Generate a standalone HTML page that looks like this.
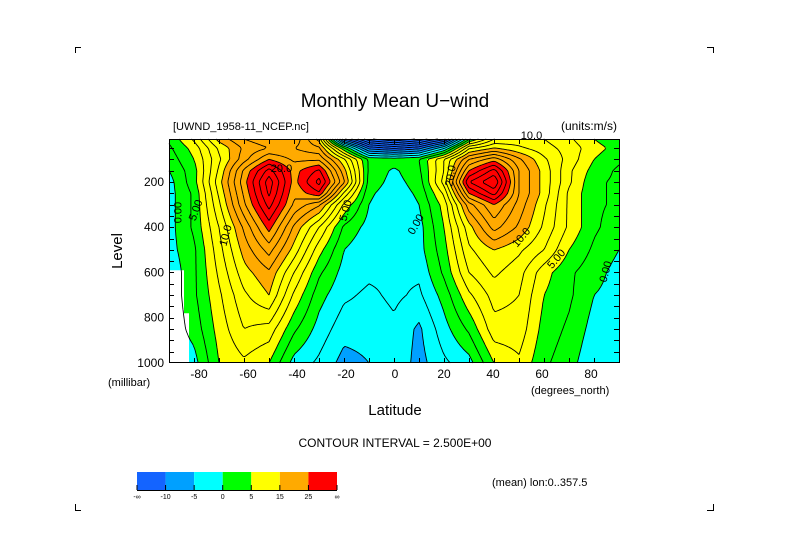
<!DOCTYPE html>
<html><head><meta charset="utf-8">
<style>
html,body{margin:0;padding:0;background:#fff;}
svg{display:block;font-family:"Liberation Sans",sans-serif;}
</style></head>
<body>
<svg id="chart" width="789" height="558" viewBox="0 0 789 558">
  <g id="corners" stroke="#000" stroke-width="1" fill="none">
    <path d="M75.5,53 V47.5 H81"/><path d="M707,47.5 H713.5 V53"/>
    <path d="M75.5,504 V510.5 H81"/><path d="M707,510.5 H713.5 V504"/>
  </g>
  <text x="395" y="107" font-size="19" text-anchor="middle">Monthly Mean U−wind</text>
  <text x="173" y="130" font-size="11">[UWND_1958-11_NCEP.nc]</text>
  <text x="617" y="130" font-size="12" text-anchor="end">(units:m/s)</text>
  <g id="fills"></g>
  <path id="missing" fill="#fff" d=""/>
  <g id="lines"></g>
  <g id="labels" font-size="11"></g>
  <rect x="169.5" y="139.5" width="450" height="223" fill="none" stroke="#000"/>
  <g id="ticks" stroke="#000"></g>
  <g id="yticklabels" font-size="12" text-anchor="end"></g>
  <g id="xticklabels" font-size="12" text-anchor="middle"></g>
  <text x="108" y="386" font-size="11">(millibar)</text>
  <text x="531" y="394" font-size="11">(degrees_north)</text>
  <text x="395" y="415" font-size="15" text-anchor="middle">Latitude</text>
  <text x="0" y="0" font-size="15" text-anchor="middle" transform="translate(122,251) rotate(-90)">Level</text>
  <text x="395" y="447" font-size="12" text-anchor="middle">CONTOUR INTERVAL = 2.500E+00</text>
  <g id="colorbar"></g>
  <text x="492" y="486" font-size="11">(mean) lon:0..357.5</text>
</svg>
<script>
// ---- data ----
const lats = [-90,-80,-70,-60,-50,-40,-30,-20,-10,0,10,20,30,40,50,60,70,80,90];
const levels = [10,50,100,150,200,250,300,400,500,600,700,850,1000];
const u10   = [3,8,16,20,22,22,14,-12,-22,-25,-22,-16,2,10,11,10,8,5,3];
const u50   = [2,6,13,18,20,20,18,3,-11,-13,-11,-3,12,15,13,11,9,6,4];
const u100  = [1,5,12,19,25,22,22,13,2,1.5,2.5,10,20,24,18,13,9,5,3];
const u150  = [0,4,13,23,31,24,28,16,2,-0.5,2,10,25,31,20,14,8,4,2];
const u200  = [-1,4,14,24,34,24,31,18,1.5,-1,1.2,11,30,35,20,14,8,3,2];
const u250  = [-1,3,13,23,33,23,27,12,0.5,-1.5,0.5,8,25,31,20,14,7,3,2];
const u300  = [-1,3,12,22,31,22,18,7,0,-2,0,6,19,25,19,13,7,3,2];
const u400  = [-1,3,10,18,26,17,10,2,-1,-2,-1,5,14,21,17,12,7,3,1];
const u500  = [-1,2,9,16,21,14,6,0,-2,-2,-1,4,12,15,13,10,5,2,0];
const u600  = [-2,2,8,14,17,10,3,-1,-2,-2,-2,3,10,13,11,6,3,1,-1];
const u700  = [-2,2,7,12,15,7,1,-2,-3,-2,-3,1,7,11,10,5,3,0,-1];
const u850  = [-2,1,6,10,9,3,-1,-4,-4,-3,-5.5,-1,3,9,9,4,2,-1,-2];
const u1000 = [-2,-1,5,7,5,-1,-3,-6,-5,-3,-6,-3,-1,5,7,3,1,-2,-2];
const rows = [u10,u50,u100,u150,u200,u250,u300,u400,u500,u600,u700,u850,u1000];
const fillBreaks = [-10,-5,0,5,15,25];
const fillColors = ["#1464ff","#00a0ff","#00ffff","#00ff00","#ffff00","#ffaa00","#ff0000"];
const barLabels = ["-∞","-10","-5","0","5","15","25","∞"];
const yTicks = [200,400,600,800,1000];
const xTicks = [-80,-60,-40,-20,0,20,40,60,80];
const cInterval = 2.5;

// ---- axes ----
const X0=169, X1=619, Y0=139, Y1=363;
const xOf = lat => X0 + (lat+90)/180*(X1-X0);
const xLab = lat => 395 + lat*2.45;
const yOf = p => Y1 - (1000-p)/(1000-10)*(Y1-Y0);
const latOf = x => (x-X0)/(X1-X0)*180-90;
const pOf = y => 1000 - (Y1-y)/(Y1-Y0)*990;
const NS="http://www.w3.org/2000/svg";
function mk(tag, attrs, parent){const e=document.createElementNS(NS,tag);for(const k in attrs)e.setAttribute(k,attrs[k]);parent.appendChild(e);return e;}

function val(lat,p){
  let fi=(lat+90)/10; fi=Math.max(0,Math.min(lats.length-1.0001,fi));
  const i=Math.floor(fi), t=fi-i;
  let j=0; while(j<levels.length-2 && p>levels[j+1]) j++;
  let s=(p-levels[j])/(levels[j+1]-levels[j]); s=Math.max(0,Math.min(1,s));
  const a=rows[j][i]*(1-t)+rows[j][i+1]*t;
  const b=rows[j+1][i]*(1-t)+rows[j+1][i+1]*t;
  return a*(1-s)+b*s;
}
function cls(v){let k=0;while(k<fillBreaks.length && v>=fillBreaks[k])k++;return k;}

// fills (run-length per pixel row)
const fills=document.getElementById('fills');
for(let y=Y0;y<Y1;y++){
  const p=pOf(y+0.5);
  let start=X0, cur=cls(val(latOf(X0+0.5),p));
  for(let x=X0+1;x<=X1;x++){
    const c = x<X1 ? cls(val(latOf(x+0.5),p)) : -1;
    if(c!==cur){
      const r=mk('rect',{x:start,y:y,width:x-start,height:1,fill:fillColors[cur]},fills);
      
      
      start=x;cur=c;
    }
  }
}
document.getElementById('missing').setAttribute('d',
  `M${X0},${yOf(590)} H${xOf(-84)} V${yOf(780)} H${xOf(-82)} V${Y1} H${X0} Z`);

// contour lines via marching squares
const lines=document.getElementById('lines');
const step=2, nx=Math.floor((X1-X0)/step)+1, ny=Math.floor((Y1-Y0)/step)+1;
const G=[];
for(let j=0;j<ny;j++){G.push([]);for(let i=0;i<nx;i++)G[j].push(val(latOf(X0+i*step),pOf(Y0+j*step)));}
for(let L=-30;L<=40;L+=cInterval){
  let d='';
  for(let j=0;j<ny-1;j++)for(let i=0;i<nx-1;i++){
    const a=G[j][i],b=G[j][i+1],c=G[j+1][i+1],e=G[j+1][i];
    const x=X0+i*step,y=Y0+j*step;
    const pts=[];
    if((a<L)!==(b<L))pts.push([x+step*(L-a)/(b-a),y]);
    if((b<L)!==(c<L))pts.push([x+step,y+step*(L-b)/(c-b)]);
    if((e<L)!==(c<L))pts.push([x+step*(L-e)/(c-e),y+step]);
    if((a<L)!==(e<L))pts.push([x,y+step*(L-a)/(e-a)]);
    for(let k=0;k+1<pts.length;k+=2)d+=`M${pts[k][0].toFixed(1)},${pts[k][1].toFixed(1)}L${pts[k+1][0].toFixed(1)},${pts[k+1][1].toFixed(1)}`;
  }
  if(!d)continue;
  const attrs={d:d,fill:'none',stroke:'#000','stroke-width':'0.9'};
  if(L<0)attrs['stroke-dasharray']='4,3';
  const pth=mk('path',attrs,lines);
  
  
}

// a few contour labels
const labs=[["5.00",-78,330,-70],["0.00",-85,335,-90],["10.0",-66,440,-75],["20.0",-45,155,0],["5.00",-18,330,-75],["0.00",10,395,-60],["20.0",24,175,-80],["10.0",52,455,-50],["5.00",66,550,-50],["0.00",86,600,-75],["10.0",55,10,0]];
const lg=document.getElementById('labels');
labs.forEach(l=>{const t=mk('text',{x:0,y:0,'text-anchor':'middle',transform:`translate(${xOf(l[1])},${yOf(l[2])}) rotate(${l[3]})`},lg);t.textContent=l[0];
  });

// ticks
const tg=document.getElementById('ticks');
for(let p=50;p<1000;p+=50){
  const y=Math.round(yOf(p))+0.5;
  mk('line',{x1:X0,y1:y,x2:X0+5,y2:y},tg);mk('line',{x1:X1-5,y1:y,x2:X1,y2:y},tg);
}
for(let lat=-80;lat<=80;lat+=10){
  const x=Math.round(xOf(lat))+0.5;
  mk('line',{x1:x,y1:Y1,x2:x,y2:Y1-5},tg);mk('line',{x1:x,y1:Y0,x2:x,y2:Y0+5},tg);
}
const yl=document.getElementById('yticklabels');
yTicks.forEach(p=>{const t=mk('text',{x:164,y:yOf(p)+4},yl);t.textContent=p;
  });
const xl=document.getElementById('xticklabels');
xTicks.forEach(l=>{const t=mk('text',{x:xLab(l),y:378},xl);t.textContent=l;
  });

// colorbar
const cb=document.getElementById('colorbar');
const cbX=137, cbW=200, cbY=472, cbH=18, seg=cbW/fillColors.length;
fillColors.forEach((c,k)=>{const r=mk('rect',{x:cbX+k*seg,y:cbY,width:seg,height:cbH,fill:c},cb);
  });
mk('line',{x1:cbX,y1:cbY+cbH+0.5,x2:cbX+cbW,y2:cbY+cbH+0.5,stroke:'#000'},cb);
barLabels.forEach((s,k)=>{const x=cbX+k*seg;
  mk('line',{x1:x,y1:cbY+cbH-5,x2:x,y2:cbY+cbH,stroke:'#000'},cb);
  const t=mk('text',{x:x,y:cbY+cbH+9,'font-size':'7','text-anchor':'middle'},cb);t.textContent=s;
  });
</script>
</body></html>
